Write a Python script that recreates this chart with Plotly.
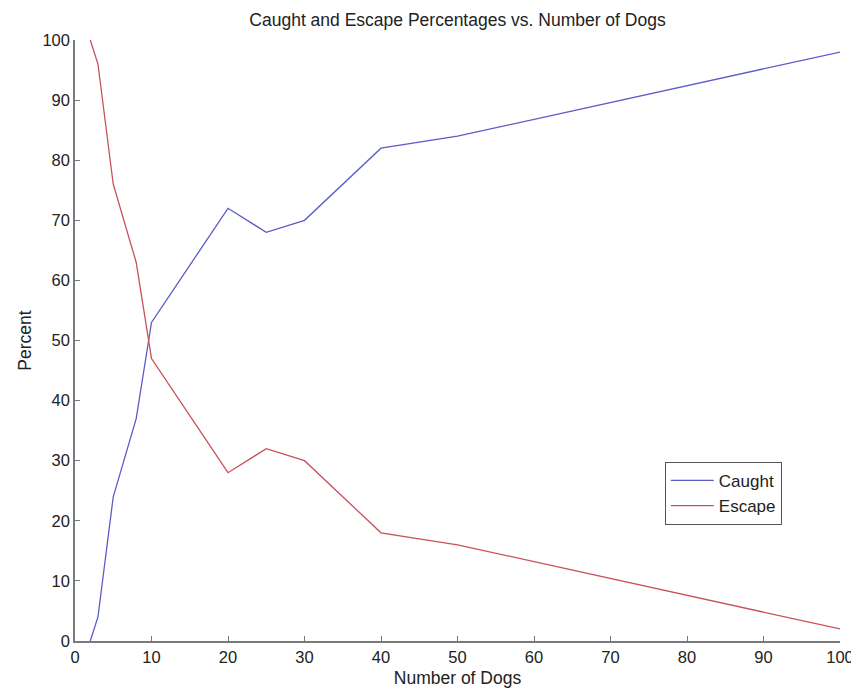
import plotly.graph_objects as go

dogs = [2, 3, 5, 8, 10, 20, 25, 30, 40, 50, 100]
caught = [0, 4, 24, 37, 53, 72, 68, 70, 82, 84, 98]
escape = [100, 96, 76, 63, 47, 28, 32, 30, 18, 16, 2]

x_ticks = [0, 10, 20, 30, 40, 50, 60, 70, 80, 90, 100]
y_ticks = [0, 10, 20, 30, 40, 50, 60, 70, 80, 90, 100]

font_family = "Liberation Sans, Arial, sans-serif"
fs_tick = 16.5
fs = 17.5

fig = go.Figure()
fig.add_trace(go.Scatter(x=dogs, y=caught, mode="lines", name="Caught",
                         line=dict(color="#5c5cc8", width=1.3)))
fig.add_trace(go.Scatter(x=dogs, y=escape, mode="lines", name="Escape",
                         line=dict(color="#c8505a", width=1.3)))

axis_common = dict(
    showgrid=False, zeroline=False, showline=True, linecolor="#7a7a7a", linewidth=1.5,
    ticks="inside", ticklen=5, tickcolor="#7a7a7a", tickwidth=1,
    tickfont=dict(family=font_family, size=fs_tick, color="#222222"),
    mirror=False, automargin=False,
)

# page body has an 8px margin: figure is sized/offset to compensate
fig.update_layout(
    width=851, height=681,
    margin=dict(l=67, r=19, t=32, b=48),
    paper_bgcolor="white", plot_bgcolor="white",
    title=dict(text="Caught and Escape Percentages vs. Number of Dogs",
               xref="paper", x=0.5, xanchor="center", y=0.9824, yanchor="middle",
               font=dict(family=font_family, size=fs, color="#222222")),
    xaxis=dict(range=[0, 100], tickvals=x_ticks,
               title=dict(text="Number of Dogs", standoff=7,
                          font=dict(family=font_family, size=fs, color="#222222")),
               **axis_common),
    yaxis=dict(range=[0, 100], tickvals=y_ticks,
               title=dict(text="Percent", standoff=6,
                          font=dict(family=font_family, size=fs, color="#222222")),
               **axis_common),
    legend=dict(x=0.771, y=0.298, xanchor="left", yanchor="top",
                bgcolor="white", bordercolor="#555555", borderwidth=1,
                font=dict(family=font_family, size=17, color="#222222"),
                tracegroupgap=0, itemwidth=43),
    showlegend=True,
)

fig.write_html("out.html")
